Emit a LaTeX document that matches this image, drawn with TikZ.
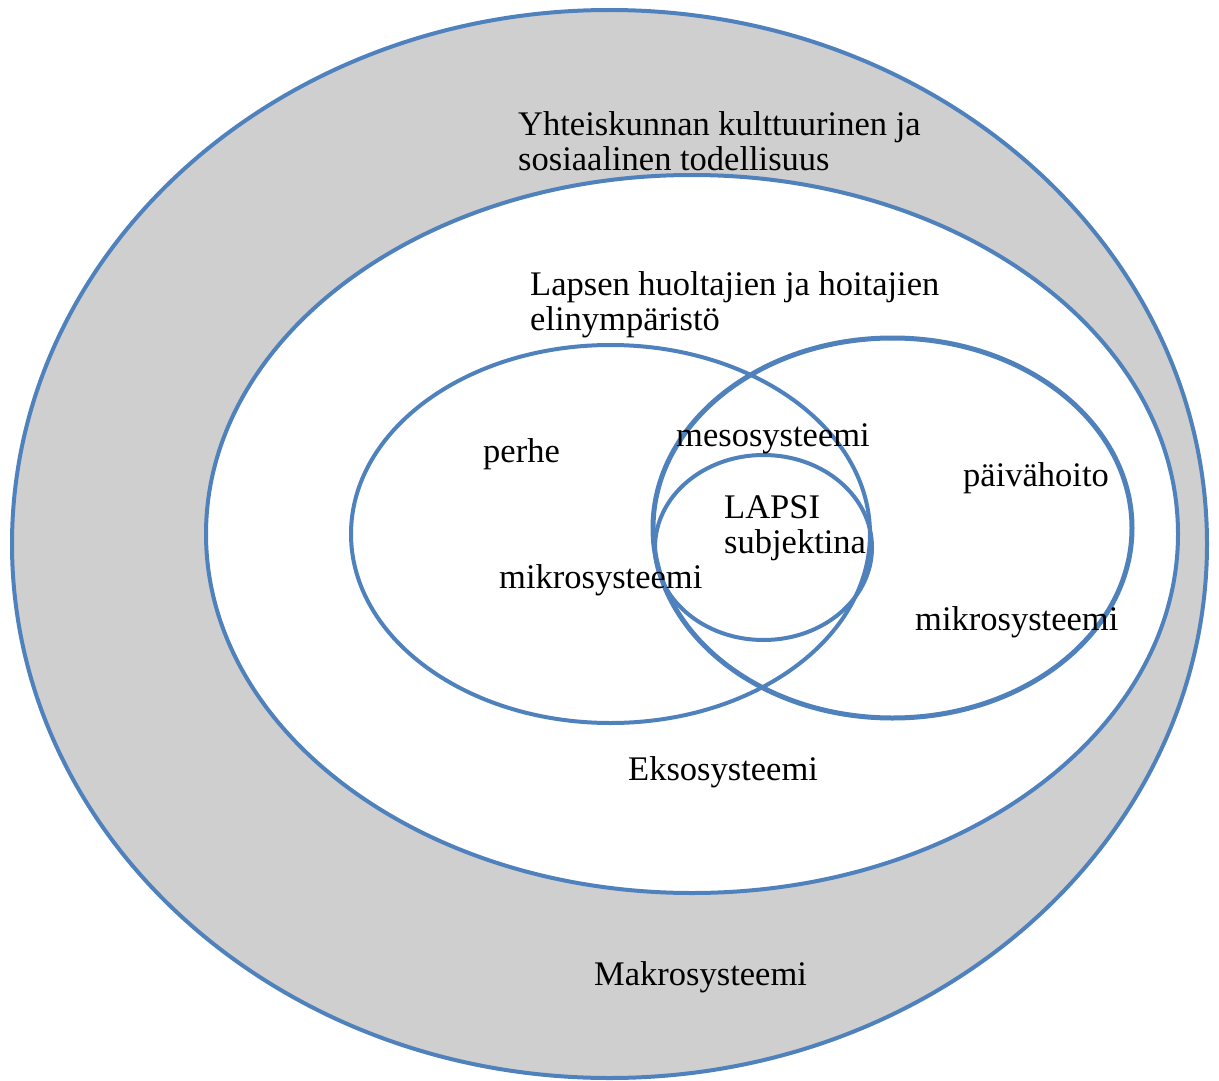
\documentclass[tikz,border=0pt]{standalone}
\usepackage{fontspec}
\setmainfont{Liberation Serif}
\definecolor{ringblue}{HTML}{4F81BD}
\definecolor{ringgray}{HTML}{CFCFCF}
\tikzset{
  ring/.style={draw=ringblue, line width=4pt},
  lbl/.style={anchor=base west, inner sep=0pt, align=left,
    font=\fontsize{34.5}{35}\selectfont}
}

\begin{document}
\begin{tikzpicture}[x=1pt, y=-1pt]
\useasboundingbox (0,0) rectangle (1219,1081);
% the rings
\draw[ring, fill=ringgray] (609.5,544) ellipse [x radius=597.5, y radius=534];
\draw[ring, fill=white] (692,534) ellipse [x radius=486, y radius=359];
\draw[ring] (610.5,534) ellipse [x radius=259.5, y radius=189];
\draw[ring, line width=5pt] (892.5,528) ellipse [x radius=239.5, y radius=190];
\draw[ring] (763.5,547.5) ellipse [x radius=108.5, y radius=92.5];
% the labels (base = last line)
\node[lbl] (yhteis) at (518,170) {Yhteiskunnan kulttuurinen ja\\sosiaalinen todellisuus};
\node[lbl] (lapsen) at (530,330) {Lapsen huoltajien ja hoitajien\\elinympäristö};
\node[lbl] (perhe) at (483,462) {perhe};
\node[lbl] (meso) at (676,446) {mesosysteemi};
\node[lbl] (lapsi) at (724,553) {LAPSI\\subjektina};
\node[lbl] (mikrovas) at (499,588) {mikrosysteemi};
\node[lbl] (paiva) at (963,486) {päivähoito};
\node[lbl] (mikrooik) at (915,630) {mikrosysteemi};
\node[lbl] (ekso) at (628,780) {Eksosysteemi};
\node[lbl] (makro) at (594,985) {Makrosysteemi};
\end{tikzpicture}
\end{document}
